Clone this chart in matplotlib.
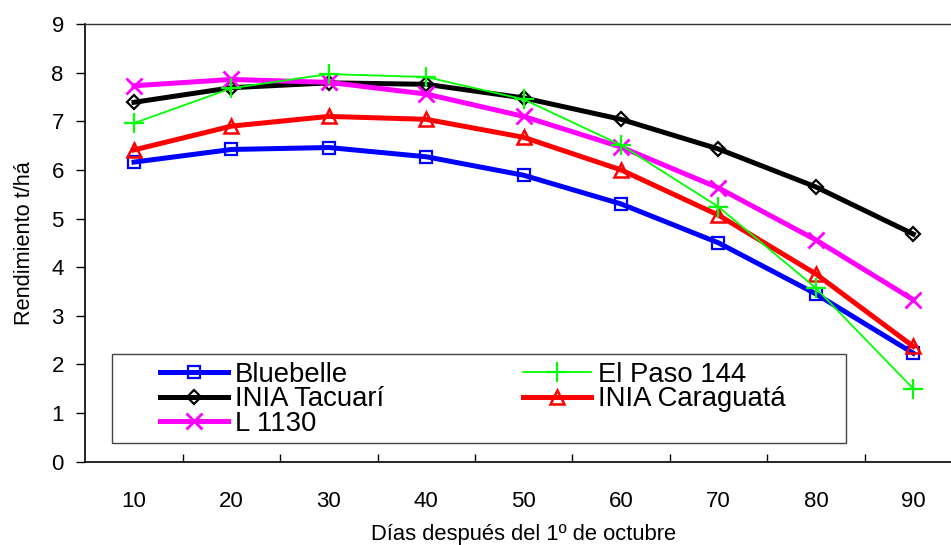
import matplotlib.pyplot as plt
from matplotlib.patches import Rectangle

plt.rcParams["font.family"] = ["Liberation Sans", "DejaVu Sans"]

dias = ["10", "20", "30", "40", "50", "60", "70", "80", "90"]

bluebelle = [6.16, 6.42, 6.46, 6.27, 5.89, 5.30, 4.50, 3.45, 2.23]
el_paso = [6.96, 7.68, 7.97, 7.91, 7.45, 6.51, 5.24, 3.57, 1.50]
tacuari = [7.39, 7.69, 7.79, 7.76, 7.48, 7.04, 6.43, 5.65, 4.68]
caraguata = [6.41, 6.90, 7.10, 7.04, 6.67, 6.00, 5.07, 3.86, 2.37]
l1130 = [7.73, 7.86, 7.80, 7.56, 7.10, 6.47, 5.63, 4.56, 3.33]

x = list(range(len(dias)))

W, H = 951, 545
fig = plt.figure(figsize=(W / 100, H / 100), dpi=100)
ax = fig.add_axes([85.3 / W, 1 - 461.7 / H, (962 - 85.3) / W, (461.7 - 24) / H])

h_blue, = ax.plot(x, bluebelle, color="#0000ff", lw=3.6, marker="s", ms=9,
                  mfc="none", mec="#0000ff", mew=1.6, label="Bluebelle", zorder=3)
h_green, = ax.plot(x, el_paso, color="#00ff00", lw=1.3, marker="+", ms=14,
                   mew=1.6, label="El Paso 144", zorder=4)
h_black, = ax.plot(x, tacuari, color="black", lw=3.6, marker="D", ms=7.5,
                   mfc="none", mec="black", mew=1.6, label="INIA Tacuarí", zorder=3)
h_red, = ax.plot(x, caraguata, color="#ff0000", lw=3.6, marker="^", ms=10,
                 mfc="none", mec="#ff0000", mew=1.8, label="INIA Caraguatá", zorder=3)
h_mag, = ax.plot(x, l1130, color="#ff00ff", lw=3.6, marker="x", ms=11,
                 mew=2.0, label="L 1130", zorder=3)

ax.set_xlim(-0.5, 8.5)
ax.set_ylim(0, 9)
ax.set_yticks(range(10))
ax.set_xticks(x)
ax.set_xticklabels(dias)
ax.set_xticks([i + 0.5 for i in range(8)], minor=True)
ax.tick_params(axis="x", which="major", length=0, labelsize=16, pad=21)
ax.tick_params(axis="x", which="minor", direction="in", length=6, width=1)
ax.tick_params(axis="y", direction="out", length=6.5, width=1, labelsize=16, pad=9)

ax.spines["right"].set_visible(False)
for s in ["left", "bottom"]:
    ax.spines[s].set_linewidth(1.2)
ax.spines["top"].set_linewidth(1.0)
ax.spines["top"].set_color("#333333")

ax.set_ylabel("Rendimiento t/há", fontsize=15.7, labelpad=12)
ax.set_xlabel("Días después del 1º de octubre", fontsize=15.8, labelpad=9)

# legend frame drawn separately (wide horizontal padding)
frame = Rectangle((112 / W, 1 - 443 / H), (846 - 112) / W, (443 - 354) / H,
                  transform=fig.transFigure, facecolor="white",
                  edgecolor="#444444", lw=1.0, zorder=5)
ax.add_artist(frame)

leg = ax.legend(handles=[h_blue, h_black, h_mag, h_green, h_red], ncol=2,
                loc="upper left", bbox_to_anchor=(160 / W, 1 - 362 / H),
                bbox_transform=fig.transFigure, fontsize=19.8, frameon=False,
                handlelength=2.47, handletextpad=0.25, labelspacing=-0.06,
                columnspacing=5.05, borderpad=0, borderaxespad=0)
leg.set_zorder(6)

fig.savefig("out.png", dpi=100)
